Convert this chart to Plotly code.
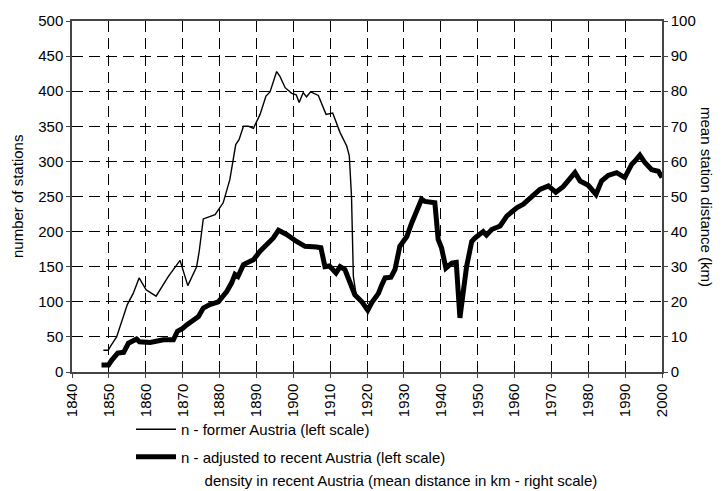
import plotly.graph_objects as go

# ---- data ----
former_years = [1848.5, 1849.8, 1850.6, 1852.1, 1855, 1856.6, 1858.2, 1860.1, 1862.8, 1866.1,
                1869.3, 1869.8, 1871.4, 1873.8, 1874.5, 1875.6, 1878.8, 1881, 1882.8, 1884.4,
                1885.3, 1886.5, 1887.9, 1889.2, 1891, 1892.6, 1893.7, 1895.5, 1896.4, 1897.8,
                1899.6, 1900.8, 1901.6, 1902.7, 1903.6, 1904.7, 1906.8, 1908.9, 1910.7, 1912.7,
                1914.5, 1915.2, 1915.8, 1916.3, 1917.2]
former_n = [31, 31, 38, 50, 96, 112, 134, 117, 108, 136,
            159, 150, 123, 150, 172, 218, 224, 241, 274, 324,
            331, 350, 350, 347, 367, 393, 399, 428, 421, 405,
            397, 395, 384, 398, 392, 399, 394, 367, 369, 341,
            322, 308, 250, 136, 105]

adj_years = [1848, 1849.9, 1850.8, 1852.4, 1854, 1855.3, 1857.5, 1858.3, 1861.2, 1864.8,
             1867.5, 1868.6, 1870, 1871.1, 1874.3, 1875.6, 1877.4, 1879.7, 1882, 1883.3,
             1884.2, 1885, 1886.5, 1889.2, 1891, 1892.8, 1894.6, 1896, 1898.2, 1900.9,
             1903.2, 1906.3, 1907.5, 1908.6, 1909.8, 1911.6, 1912.7, 1914, 1915, 1916.7,
             1918.6, 1920.2, 1921.3, 1923.1, 1924, 1924.9, 1926.5, 1927.6, 1928.9, 1930.8,
             1932.1, 1933.5, 1934.8, 1935.7, 1938.4, 1939.3, 1940.2, 1941.4, 1943, 1944.2,
             1944.6, 1945.2, 1946.3, 1947, 1948.4, 1949.3, 1951.5, 1952.4, 1953.8, 1956.1,
             1957.9, 1960.6, 1962.4, 1965.1, 1966.9, 1969.2, 1971.2, 1973.2, 1976.4, 1977.8,
             1980, 1982.1, 1983.6, 1985.4, 1987.7, 1989.9, 1991.8, 1992.6, 1994, 1995.4,
             1997.2, 1999, 2000]
adj_n = [10, 10, 17, 27, 28, 41, 47, 43, 42, 46,
         46, 58, 62, 67, 79, 91, 96, 100, 115, 127,
         139, 136, 153, 160, 172, 181, 191, 202, 196, 186,
         179, 178, 177, 150, 151, 141, 150, 146, 131, 110,
         100, 88, 99, 112, 124, 134, 135, 146, 179, 193,
         212, 229, 246, 243, 241, 189, 177, 148, 155, 156,
         130, 77, 122, 150, 186, 191, 200, 195, 203, 208,
         222, 234, 239, 253, 260, 265, 256, 264, 284, 272,
         266, 253, 272, 280, 284, 277, 296, 300, 309, 298,
         288, 286, 277]

# density series: no visible line in the reference, legend entry only
density_years = [None]
density_km = [None]

x_ticks = list(range(1840, 2001, 10))
left_ticks = list(range(0, 501, 50))
right_ticks = list(range(0, 101, 10))

FONT = "Liberation Sans, Arial, sans-serif"
FS = 15
GRID_DASH = "11px,6px"

fig = go.Figure()
fig.add_trace(go.Scatter(x=former_years, y=former_n, mode="lines",
                         name="n - former Austria (left scale)",
                         line=dict(color="black", width=1.4), legendgroup="a"))
fig.add_trace(go.Scatter(x=adj_years, y=adj_n, mode="lines",
                         name="n - adjusted to recent Austria (left scale)",
                         line=dict(color="black", width=5), legendgroup="b"))
fig.add_trace(go.Scatter(x=density_years, y=density_km, mode="lines", yaxis="y2",
                         name="density in recent Austria (mean distance in km - right scale)",
                         line=dict(color="rgba(0,0,0,0)", width=1), legend="legend2",
                         showlegend=True))

# page body has an 8px margin: figure is 8px smaller and margins compensate
fig.update_layout(
    width=715, height=483,
    margin=dict(l=64, r=61, t=13, b=119, autoexpand=False),
    paper_bgcolor="white", plot_bgcolor="white",
    font=dict(family=FONT, size=FS, color="black"),
    showlegend=True,
    legend=dict(x=0.1, xanchor="left", y=-0.117, yanchor="top",
                orientation="v", traceorder="grouped", tracegroupgap=5,
                font=dict(family=FONT, size=FS, color="black"),
                bgcolor="rgba(0,0,0,0)", itemwidth=40),
    legend2=dict(x=0.14, xanchor="left", y=-0.263, yanchor="top",
                 orientation="v",
                 font=dict(family=FONT, size=FS, color="black"),
                 bgcolor="rgba(0,0,0,0)", itemwidth=40),
    xaxis=dict(range=[1840, 2000], tickmode="array", tickvals=x_ticks,
               ticktext=[str(v) for v in x_ticks], tickangle=-90,
               showgrid=True, gridcolor="black", griddash=GRID_DASH, gridwidth=1.4,
               showline=True, linecolor="#444", linewidth=1.5, mirror=True,
               ticks="outside", ticklen=4, tickcolor="#444", zeroline=False,
               tickfont=dict(size=FS)),
    yaxis=dict(range=[0, 500], tickmode="array", tickvals=left_ticks,
               showgrid=True, gridcolor="black", griddash=GRID_DASH, gridwidth=1.4,
               showline=True, linecolor="#444", linewidth=1.5,
               ticks="outside", ticklen=4, tickcolor="#444", zeroline=False,
               tickfont=dict(size=FS)),
    yaxis2=dict(range=[0, 100], tickmode="array", tickvals=right_ticks,
                overlaying="y", side="right", showgrid=False,
                showline=True, linecolor="#444", linewidth=1.5,
                ticks="outside", ticklen=4, tickcolor="#444", zeroline=False,
                tickfont=dict(size=FS)),
    annotations=[
        dict(text="number of stations", textangle=-90,
             xref="paper", yref="paper", x=0.0, y=0.5,
             xshift=-65, showarrow=False, font=dict(size=FS, family=FONT)),
        dict(text="mean station distance (km)", textangle=90,
             xref="paper", yref="paper", x=1.0, y=0.5,
             xshift=55, showarrow=False, font=dict(size=FS, family=FONT)),
    ],
)

fig.write_html("out.html")
